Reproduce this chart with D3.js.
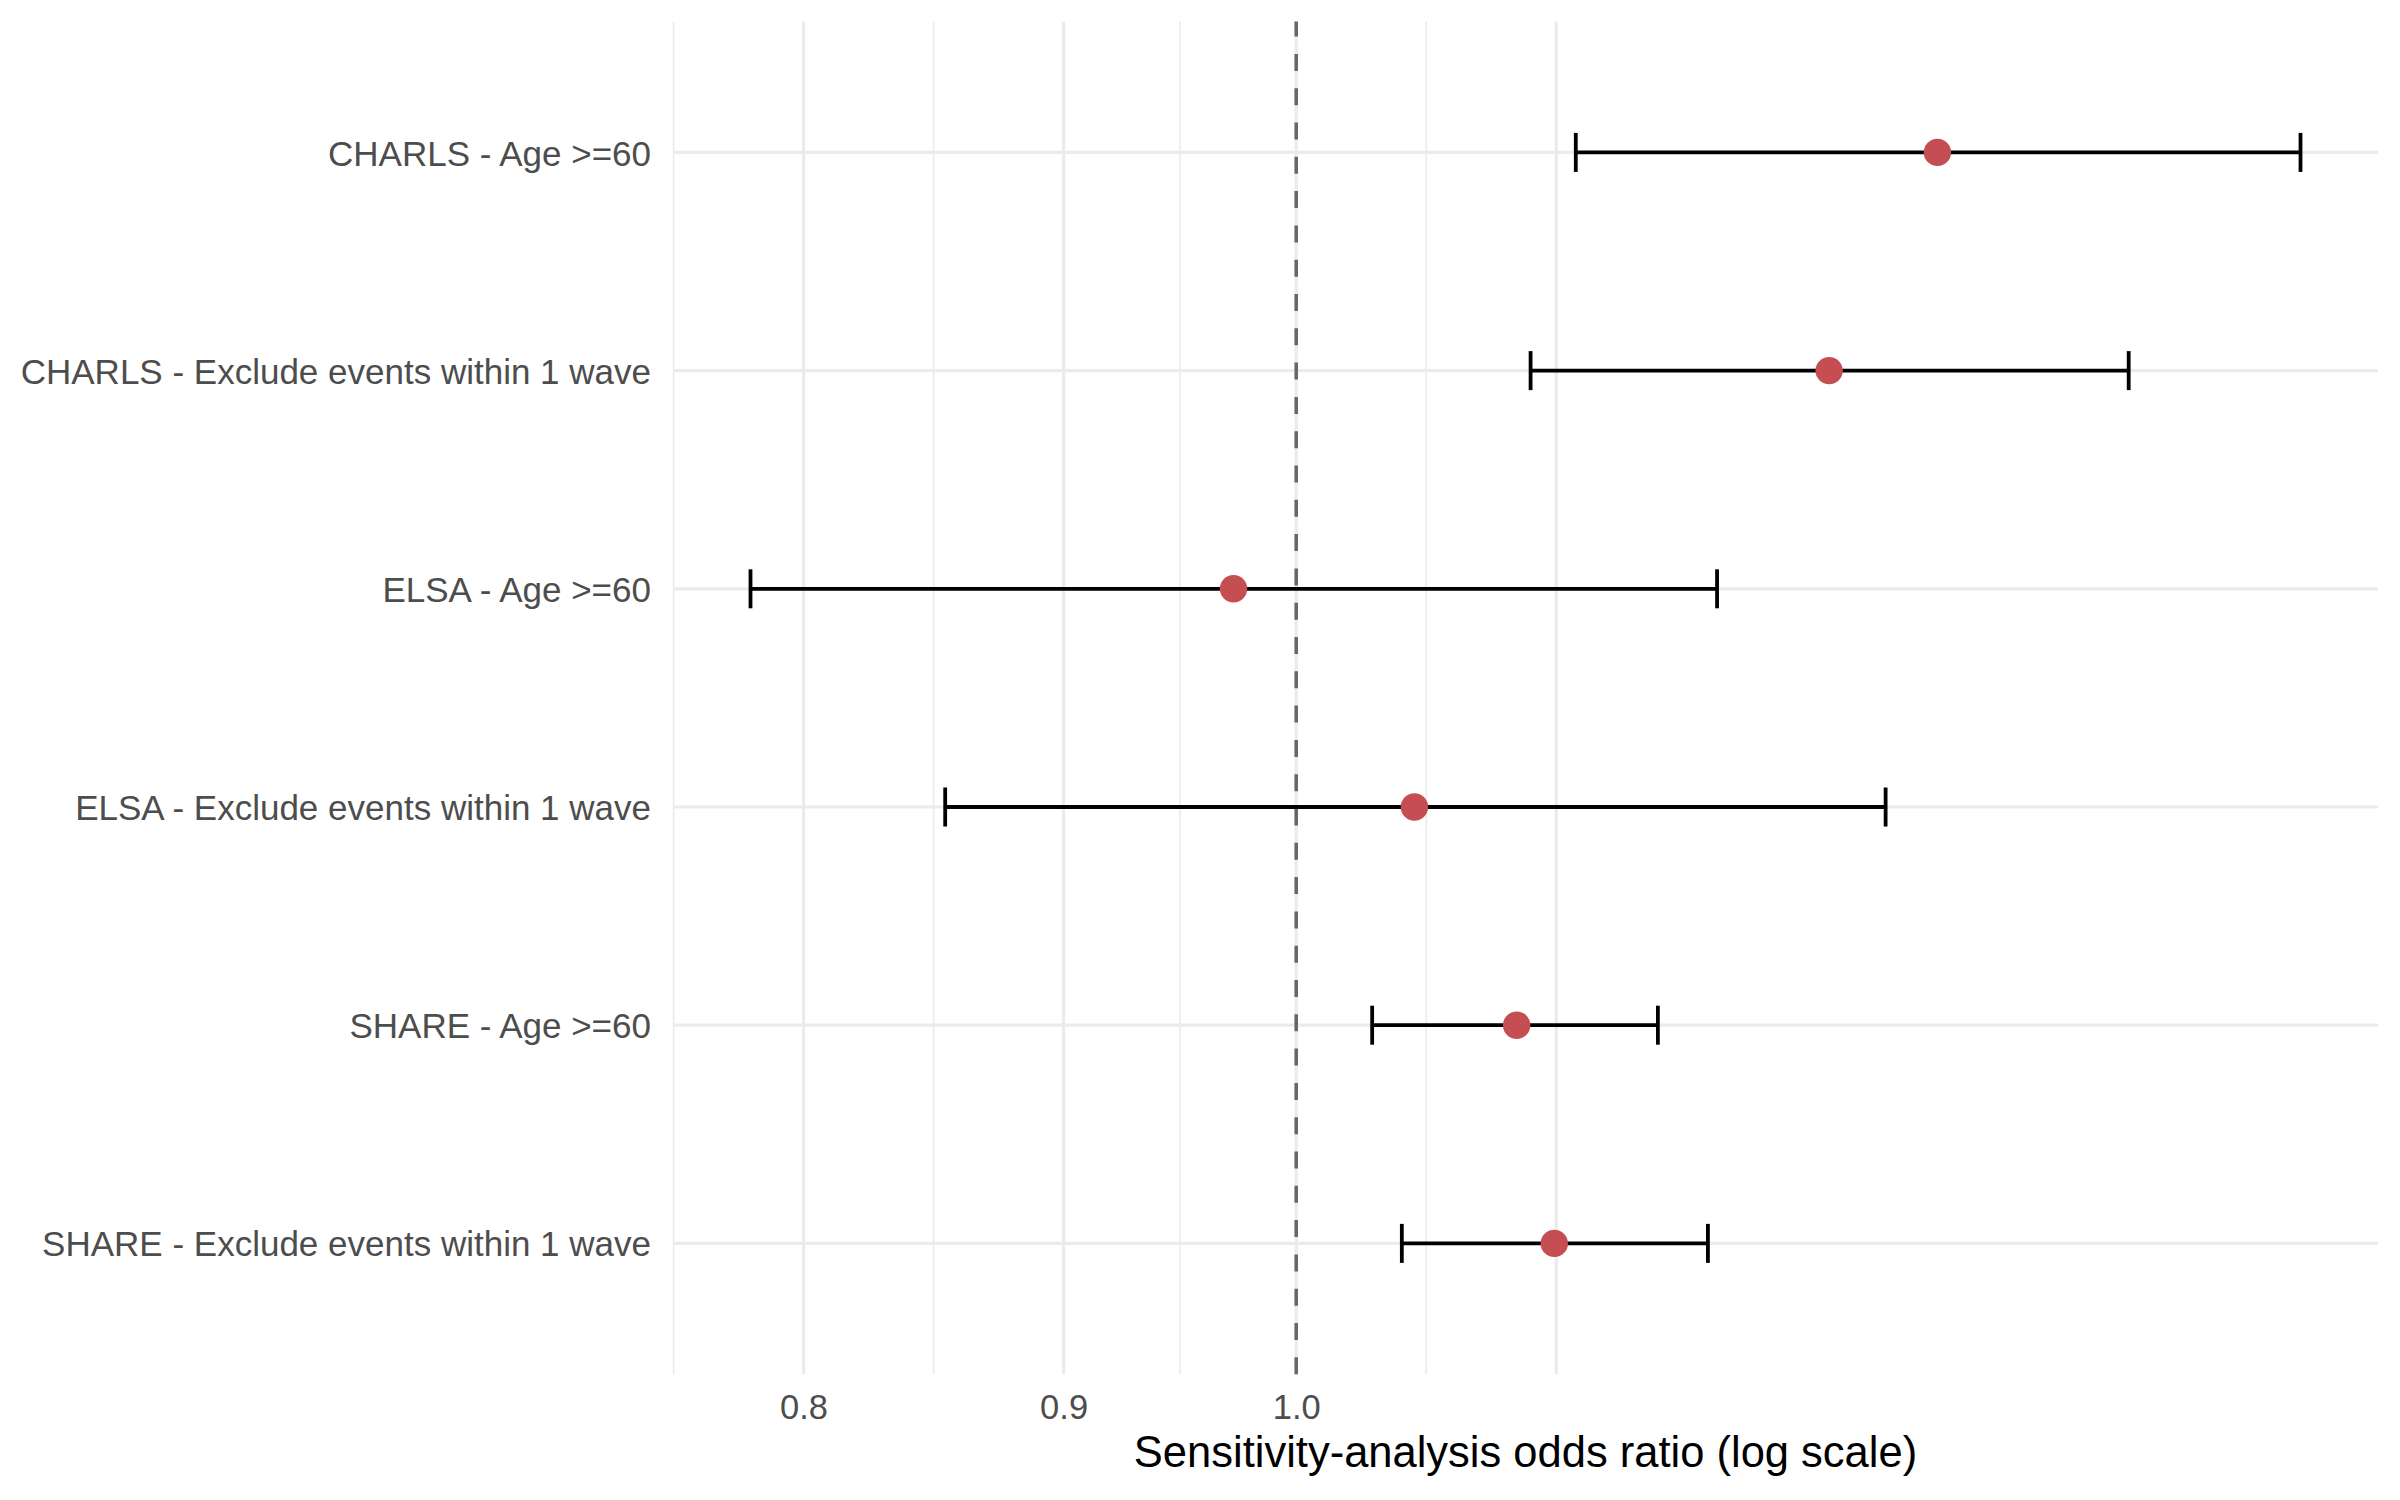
<!DOCTYPE html>
<html>
<head>
<meta charset="utf-8">
<script src="https://cdn.jsdelivr.net/npm/d3@7"></script>
<style>
  body { margin: 0; background: #fff; }
  text { font-family: "Liberation Sans", Arial, Helvetica, sans-serif; }
</style>
</head>
<body>
<div id="chart"></div>
<script>
// Chart Data
const labels = [
  "CHARLS - Age >=60",
  "CHARLS - Exclude events within 1 wave",
  "ELSA - Age >=60",
  "ELSA - Exclude events within 1 wave",
  "SHARE - Age >=60",
  "SHARE - Exclude events within 1 wave"
];
const estimates = [1.337, 1.273, 0.972, 1.055, 1.105, 1.124];
const lower = [1.135, 1.112, 0.781, 0.853, 1.035, 1.049];
const upper = [1.576, 1.458, 1.210, 1.306, 1.178, 1.205];
const majorBreaks = [0.8, 0.9, 1.0, 1.125];
const breakLabels = ["0.8", "0.9", "1.0", ""];

// Dimensions For SVG Element
let w = 2400, h = 1500;
let panel = { left: 673, right: 2378, top: 21.5, bottom: 1374.3 };

let svg = d3.select("#chart").append("svg").attr("width", w).attr("height", h);
svg.append("rect").attr("width", w).attr("height", h).attr("fill", "#fff");

// Log Scale With 5% Expansion (in log space)
let lo = Math.log(d3.min(lower)), hi = Math.log(d3.max(upper));
let pad = (hi - lo) * 0.05;
let x = d3.scaleLog().domain([Math.exp(lo - pad), Math.exp(hi + pad)]).range([panel.left, panel.right]);
let y = d3.scalePoint().domain(labels).range([panel.top, panel.bottom]).padding(0.6);

// Minor Breaks Sit Halfway Between Major Ones (log space)
let minorBreaks = [Math.sqrt(majorBreaks[0] * majorBreaks[0] / 1.125)];
for (let i = 1; i < majorBreaks.length; i++) minorBreaks.push(Math.sqrt(majorBreaks[i - 1] * majorBreaks[i]));

let grid = svg.append("g");
grid.selectAll(".minor").data(minorBreaks).enter().append("line")
  .attr("x1", d => x(d)).attr("x2", d => x(d)).attr("y1", panel.top).attr("y2", panel.bottom)
  .attr("stroke", "#ebebeb").attr("stroke-width", 1.6);
grid.selectAll(".majorx").data(majorBreaks).enter().append("line")
  .attr("x1", d => x(d)).attr("x2", d => x(d)).attr("y1", panel.top).attr("y2", panel.bottom)
  .attr("stroke", "#ebebeb").attr("stroke-width", 3.2);
grid.selectAll(".majory").data(labels).enter().append("line")
  .attr("x1", panel.left).attr("x2", panel.right).attr("y1", d => y(d)).attr("y2", d => y(d))
  .attr("stroke", "#ebebeb").attr("stroke-width", 3.2);

// Reference Line At OR = 1
svg.append("line")
  .attr("x1", x(1)).attr("x2", x(1)).attr("y1", panel.bottom).attr("y2", panel.top)
  .attr("stroke", "#666").attr("stroke-width", 3.5).attr("stroke-dasharray", "17,17.3");

// Error Bars
let rows = labels.map((l, i) => ({ label: l, est: estimates[i], lo: lower[i], hi: upper[i] }));
let bars = svg.append("g").attr("stroke", "#000").attr("stroke-width", 3.8);
bars.selectAll(".h").data(rows).enter().append("line")
  .attr("x1", d => x(d.lo)).attr("x2", d => x(d.hi)).attr("y1", d => y(d.label)).attr("y2", d => y(d.label));
bars.selectAll(".capl").data(rows).enter().append("line")
  .attr("x1", d => x(d.lo)).attr("x2", d => x(d.lo)).attr("y1", d => y(d.label) - 19.5).attr("y2", d => y(d.label) + 19.5);
bars.selectAll(".capr").data(rows).enter().append("line")
  .attr("x1", d => x(d.hi)).attr("x2", d => x(d.hi)).attr("y1", d => y(d.label) - 19.5).attr("y2", d => y(d.label) + 19.5);

// Point Estimates
svg.append("g").selectAll("circle").data(rows).enter().append("circle")
  .attr("cx", d => x(d.est)).attr("cy", d => y(d.label)).attr("r", 13.7).attr("fill", "#c44e52");

// Axes
let xAxis = svg.append("g").attr("transform", `translate(0,${panel.bottom})`)
  .call(d3.axisBottom(x).tickValues(majorBreaks).tickFormat((d, i) => breakLabels[i]).tickSize(0).tickPadding(20.5));
xAxis.select(".domain").remove();
xAxis.selectAll("text").attr("fill", "#4d4d4d").style("font-size", "34.5px");

let yAxis = svg.append("g").attr("transform", `translate(${panel.left},0)`)
  .call(d3.axisLeft(y).tickSize(0).tickPadding(22));
yAxis.select(".domain").remove();
yAxis.selectAll("text").attr("fill", "#4d4d4d").attr("dy", "0.36em").style("font-size", "35px");

// Axis Title
svg.append("text").attr("x", (panel.left + panel.right) / 2).attr("y", 1467)
  .attr("text-anchor", "middle").attr("fill", "#000").style("font-size", "43.5px")
  .text("Sensitivity-analysis odds ratio (log scale)");
</script>
</body>
</html>
